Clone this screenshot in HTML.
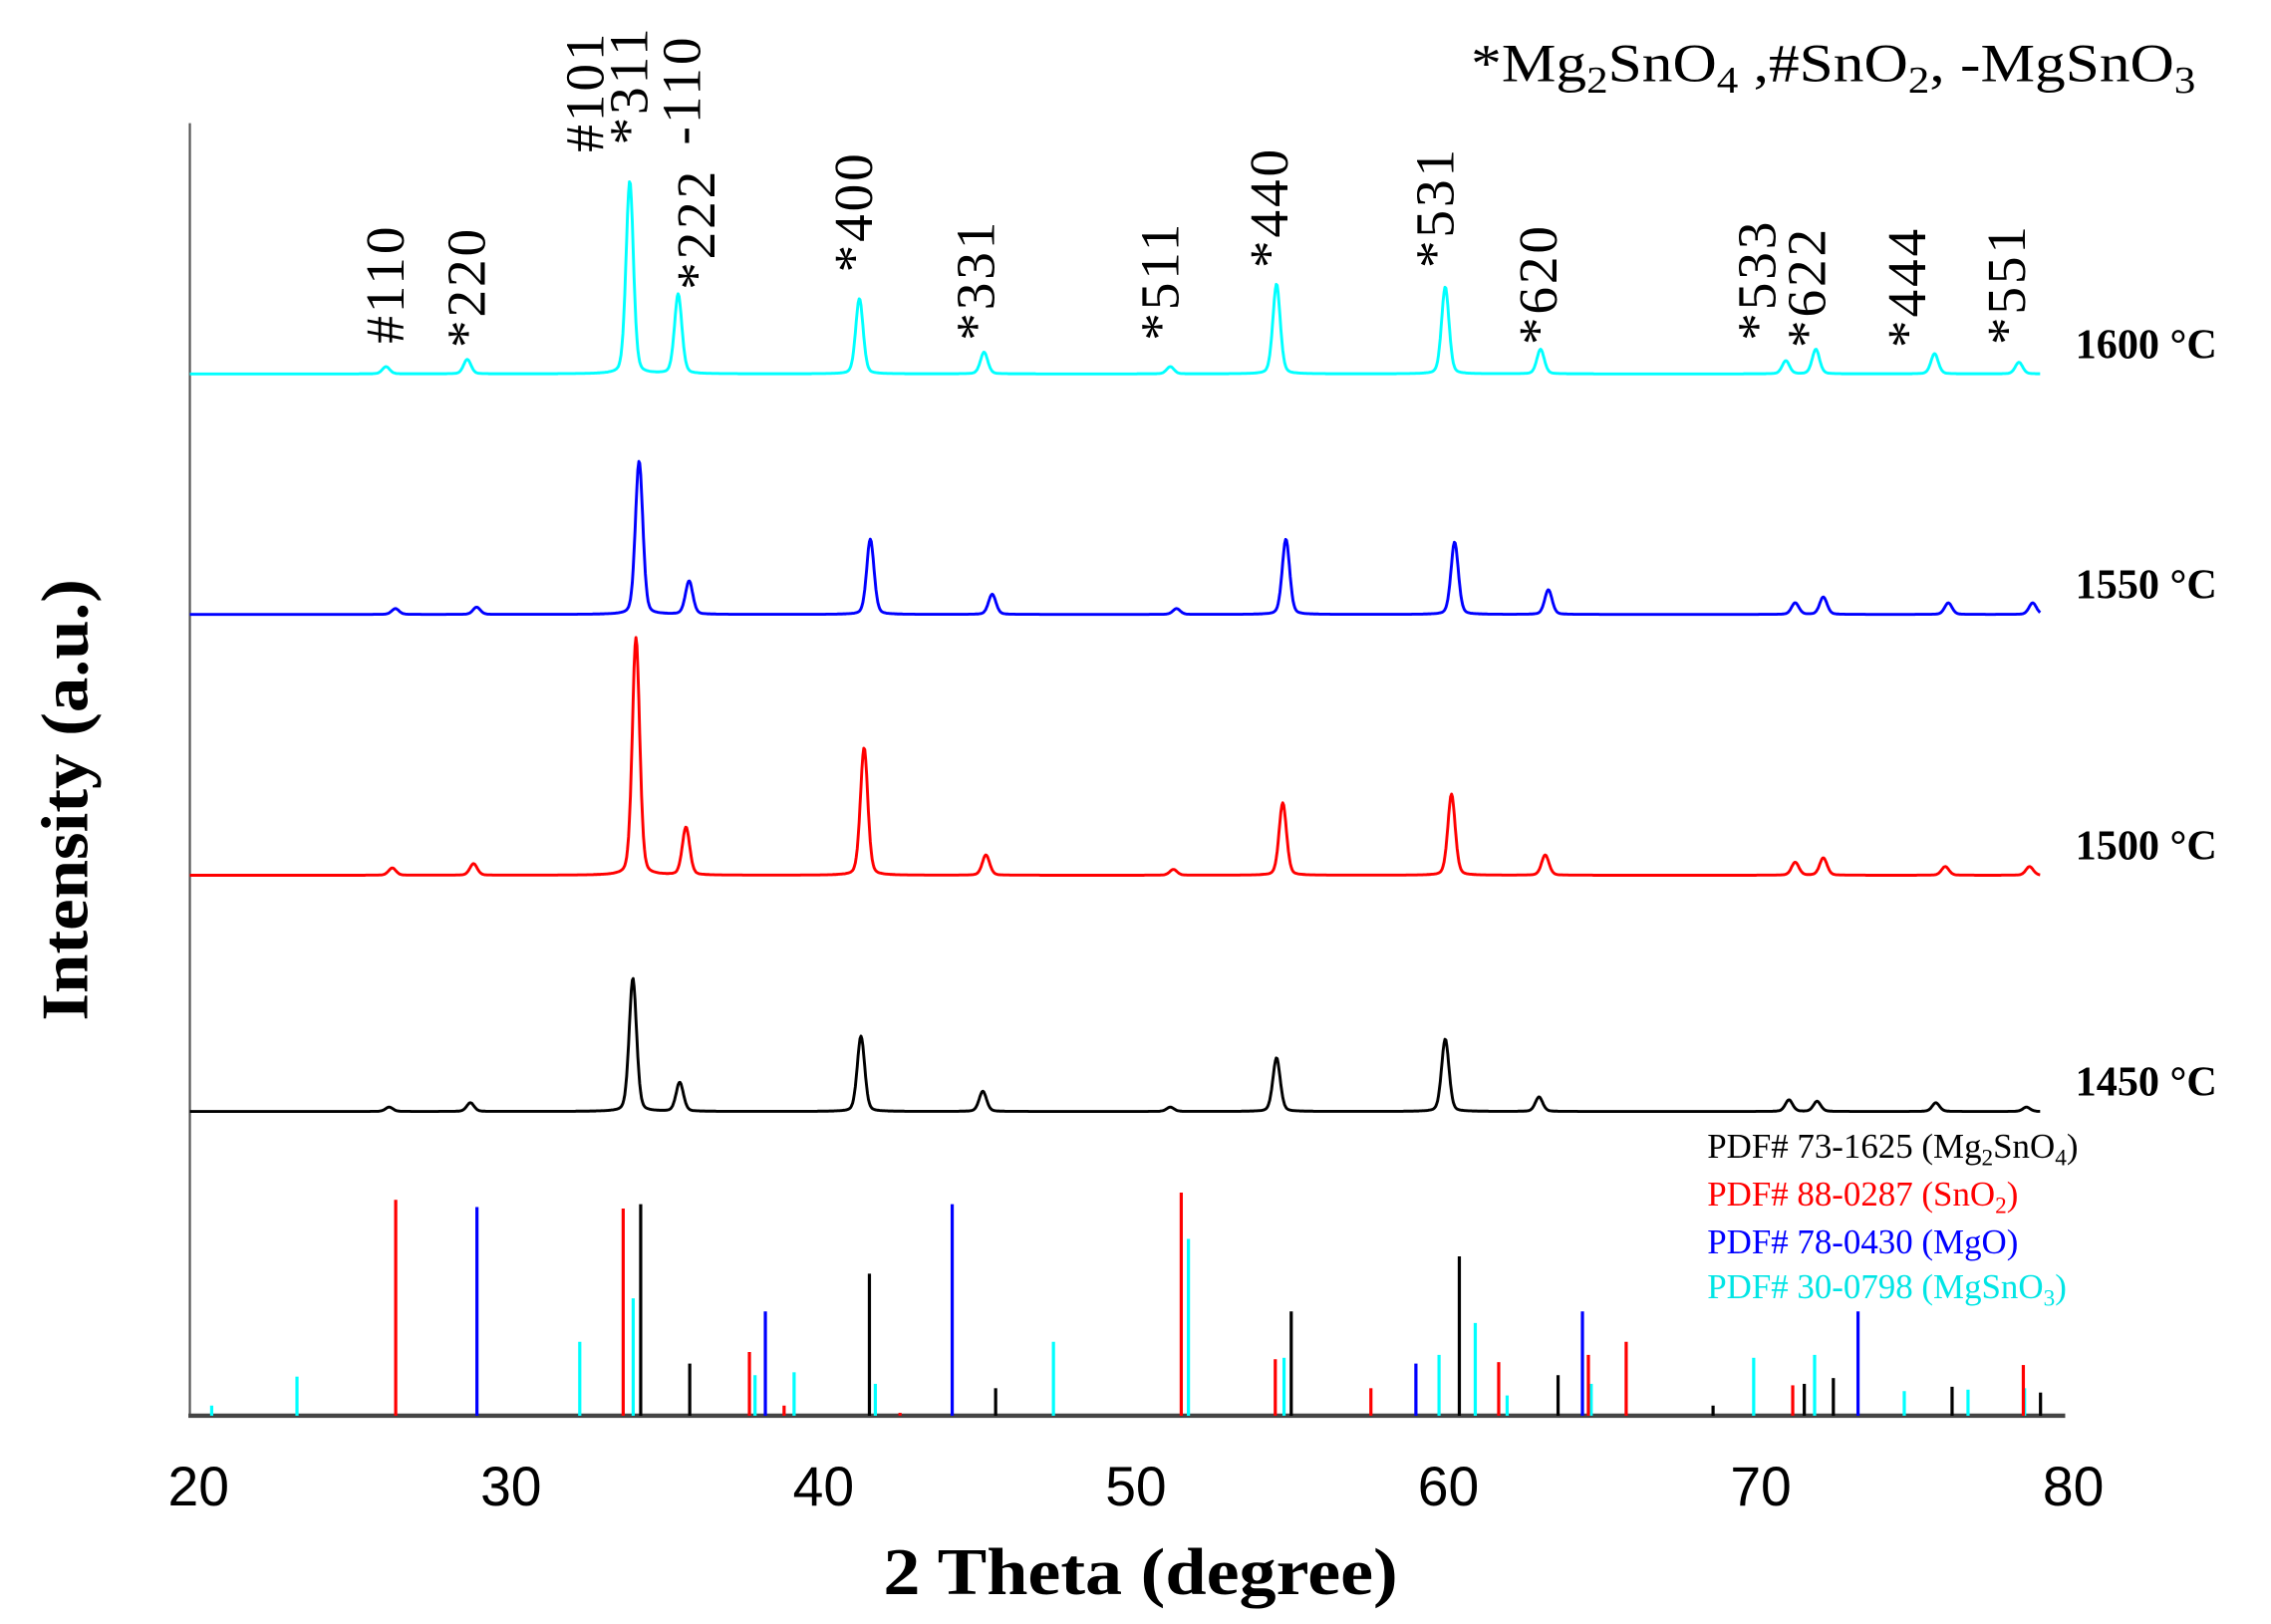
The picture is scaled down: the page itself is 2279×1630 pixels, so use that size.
<!DOCTYPE html>
<html><head><meta charset="utf-8"><style>
html,body{margin:0;padding:0;background:#fff;}
svg{display:block;}
</style></head><body>
<svg id="chart" width="2279" height="1630" viewBox="0 0 1567 1120.7" xmlns="http://www.w3.org/2000/svg">
<rect x="0" y="0" width="1567" height="1121" fill="#fff"/>
<g id="axes">
<line x1="131" y1="85" x2="131" y2="978" stroke="#555" stroke-width="1.5"/>
<line x1="130" y1="977" x2="1425" y2="977" stroke="#444" stroke-width="3"/>
</g>
<g id="xticks" font-family="'Liberation Sans',sans-serif" font-size="38" text-anchor="middle"></g>
<text x="787" y="1100" text-anchor="middle" font-family="'Liberation Serif',serif" font-weight="bold" font-size="46" textLength="355" lengthAdjust="spacingAndGlyphs">2 Theta (degree)</text>
<text transform="translate(60,552) rotate(-90)" text-anchor="middle" font-family="'Liberation Serif',serif" font-weight="bold" font-size="46" textLength="305" lengthAdjust="spacingAndGlyphs">Intensity (a.u.)</text>
<text x="1015" y="56" font-family="'Liberation Serif',serif" font-size="37" textLength="500" lengthAdjust="spacingAndGlyphs">*Mg<tspan font-size="26" dy="8">2</tspan><tspan dy="-8">SnO</tspan><tspan font-size="26" dy="8">4</tspan><tspan dy="-8"> ,#SnO</tspan><tspan font-size="26" dy="8">2</tspan><tspan dy="-8">, -MgSnO</tspan><tspan font-size="26" dy="8">3</tspan></text>
<g id="patterns"></g>
<g id="sticks"></g>
<g id="peaklabels" font-family="'Liberation Serif',serif" font-size="38" letter-spacing="2"></g>
<g id="templabels" font-family="'Liberation Serif',serif" font-weight="bold" font-size="29"></g>
<g font-family="'Liberation Serif',serif" font-size="24">
<text x="1178" y="799" fill="#000">PDF# 73-1625 (Mg<tspan font-size="16" dy="5">2</tspan><tspan dy="-5">SnO</tspan><tspan font-size="16" dy="5">4</tspan><tspan dy="-5">)</tspan></text>
<text x="1178" y="832" fill="#ff0000">PDF# 88-0287 (SnO<tspan font-size="16" dy="5">2</tspan><tspan dy="-5">)</tspan></text>
<text x="1178" y="865" fill="#0000ff">PDF# 78-0430 (MgO)</text>
<text x="1178" y="896" fill="#00e5e5">PDF# 30-0798 (MgSnO<tspan font-size="16" dy="5">3</tspan><tspan dy="-5">)</tspan></text>
</g>
</svg>
<script>
// ---- data ----
const xTicks = [20, 30, 40, 50, 60, 70, 80];
const temps = ["1600 °C", "1550 °C", "1500 °C", "1450 °C"];
const pos1600 = [26.0, 28.6, 33.8, 35.35, 41.15, 45.14, 51.1, 54.5, 59.9, 62.95, 70.8, 71.76, 75.56, 78.26];
const int1600 = [5, 10, 133, 55, 52, 15, 5, 62, 60, 17, 9, 17, 14, 8];
const pos1550 = [26.3, 28.9, 34.1, 35.7, 41.5, 45.4, 51.3, 54.8, 60.2, 63.2, 71.1, 72.0, 76.0, 78.7];
const int1550 = [4, 5, 106, 23, 52, 14, 4, 52, 50, 17, 8, 12, 8, 8];
const pos1500 = [26.2, 28.8, 34.0, 35.6, 41.3, 45.2, 51.2, 54.7, 60.1, 63.1, 71.1, 72.0, 75.9, 78.6];
const int1500 = [5, 8, 164, 33, 88, 14, 4, 50, 56, 14, 9, 12, 6, 6];
const pos1450 = [26.1, 28.7, 33.9, 35.4, 41.2, 45.1, 51.1, 54.5, 59.9, 62.9, 70.9, 71.8, 75.6, 78.5];
const int1450 = [3, 6, 92, 20, 52, 14, 3, 37, 50, 10, 8, 7, 6, 3];
const refSnO2Pos = [26.31, 33.59, 37.63, 38.74, 42.45, 51.45, 54.46, 57.52, 61.61, 64.48, 65.69, 71.02, 78.40];
const refSnO2Int = [149, 143, 44, 7, 2, 154, 39, 19, 37, 42, 51, 21, 35];
const refMgOPos = [28.91, 38.14, 44.12, 58.96, 64.29, 73.11];
const refMgOInt = [144, 72, 146, 36, 72, 72];
const refMg2SnO4Pos = [34.15, 35.72, 41.47, 45.51, 54.97, 60.35, 63.51, 68.47, 71.39, 72.32, 76.12, 78.95];
const refMg2SnO4Int = [146, 36, 98, 19, 72, 110, 28, 7, 22, 26, 20, 16];
const refMgSnO3Pos = [20.42, 23.15, 32.20, 33.91, 37.81, 39.06, 41.66, 47.36, 51.68, 54.74, 59.70, 60.86, 61.88, 64.57, 69.77, 71.72, 74.59, 76.63, 78.44];
const refMgSnO3Int = [7, 27, 51, 81, 28, 30, 22, 51, 122, 40, 42, 64, 14, 22, 40, 42, 17, 18, 19];
const peakLabelText = ["#110", "*220", "#101", "*311", "-110", "*222", "*400", "*331", "*511", "*440", "*531", "*620", "*533", "*622", "*444", "*551"];
const peakLabelPos = [26.0, 28.6, 32.4, 33.8, 35.5, 35.95, 41.0, 44.9, 50.8, 54.3, 59.6, 62.9, 69.9, 71.5, 74.7, 77.9];
const peakLabelH = [21, 18, 153, 158, 158, 58, 70, 23, 23, 73, 73, 20, 23, 18, 18, 20];

// ---- axis functions ----
const X0 = 137, PX = 21.56;
function xs(v){ return X0 + (v - 20) * PX; }
const baselines = [258, 424, 604, 767];
const stickBase = 977;
const NS = "http://www.w3.org/2000/svg";
function mk(tag, attrs){ const e = document.createElementNS(NS, tag); for (const k in attrs) e.setAttribute(k, attrs[k]); return e; }

const tg = document.getElementById('xticks');
xTicks.forEach(t => {
  const e = mk('text', {x: xs(t), y: 1039});
  
  
  e.textContent = t; tg.appendChild(e);
});

const series = [[pos1600, int1600, '#00ffff'], [pos1550, int1550, '#0000ff'], [pos1500, int1500, '#ff0000'], [pos1450, int1450, '#000000']];
const pg = document.getElementById('patterns');
const names = ['pattern-1600c', 'pattern-1550c', 'pattern-1500c', 'pattern-1450c'];
series.forEach((s, i) => {
  const [pos, inten, col] = s;
  let d = '';
  for (let t = 19.72; t <= 78.95; t += 0.03) {
    let y = 0;
    for (let j = 0; j < pos.length; j++) {
      const w = 0.14; const dx = (t - pos[j]) / w;
      y += inten[j] * (0.75 * Math.exp(-dx * dx * 0.693) + 0.25 / (1 + dx * dx));
    }
    d += (d ? 'L' : 'M') + xs(t).toFixed(1) + ',' + (baselines[i] - y).toFixed(1);
  }
  const p = mk('path', {d: d, fill: 'none', stroke: col, 'stroke-width': 2, 'stroke-linejoin': 'round'});
  
  
  pg.appendChild(p);
  const lab = mk('text', {x: 1432, y: baselines[i] - 11});
  
  
  lab.textContent = temps[i];
  document.getElementById('templabels').appendChild(lab);
});

const sg = document.getElementById('sticks');
const refs = [[refMgSnO3Pos, refMgSnO3Int, '#00ffff'], [refMg2SnO4Pos, refMg2SnO4Int, '#000000'], [refMgOPos, refMgOInt, '#0000ff'], [refSnO2Pos, refSnO2Int, '#ff0000']];
refs.forEach(r => {
  r[0].forEach((p, j) => {
    const l = mk('line', {x1: xs(p), x2: xs(p), y1: stickBase, y2: stickBase - r[1][j], stroke: r[2], 'stroke-width': 2.2});
    
    
    sg.appendChild(l);
  });
});

const lg = document.getElementById('peaklabels');
peakLabelText.forEach((t, i) => {
  const x = xs(peakLabelPos[i]) + 12, y = baselines[0] - peakLabelH[i];
  const e = mk('text', {transform: 'translate(' + x + ',' + y + ') rotate(-90)'});
  
  
  e.textContent = t; lg.appendChild(e);
});
</script>
</body></html>
